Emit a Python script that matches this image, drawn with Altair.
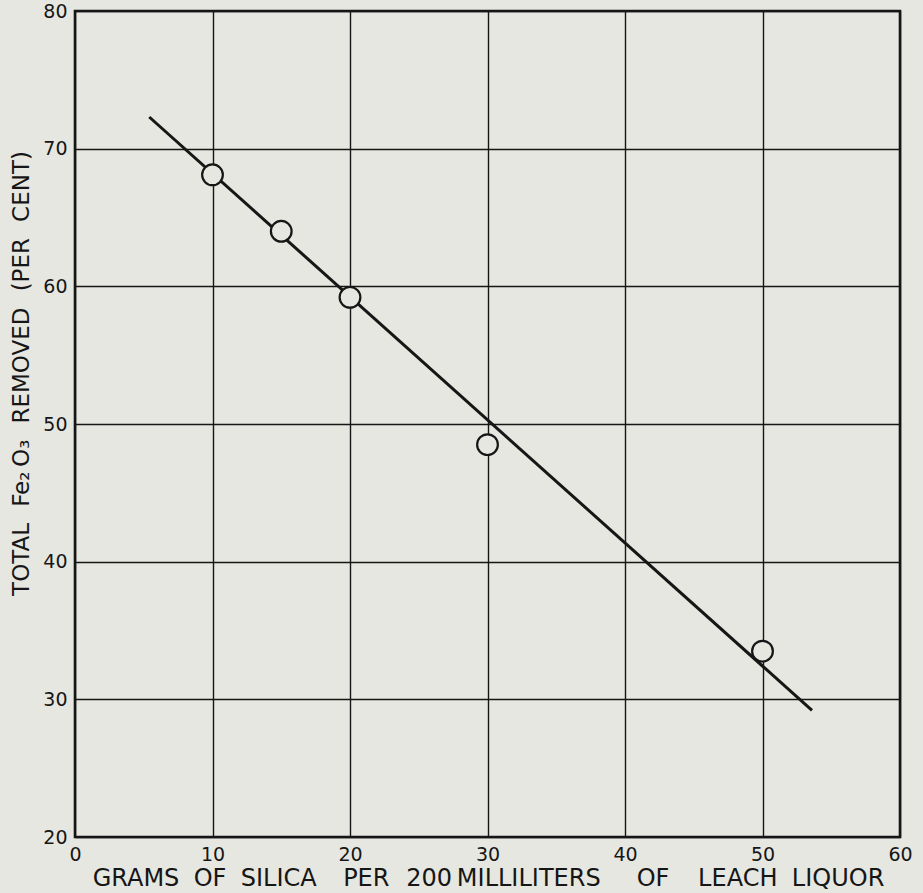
import altair as alt
import pandas as pd

# Measured points
silica_g = [10, 15, 20, 30, 50]
fe2o3_removed = [68.1, 64.0, 59.2, 48.5, 33.5]

# Fitted straight line (end points)
fit_x = [5.4, 53.6]
fit_y = [72.3, 29.2]

x_ticks = [0, 10, 20, 30, 40, 50, 60]
y_ticks = [20, 30, 40, 50, 60, 70, 80]

BG = "#e7e7e1"
INK = "#161616"
FONT = "DejaVu Sans"

EN, EM, TH, HA = "\u2002", "\u2003", "\u2009", "\u200a"
x_title = ("GRAMS" + EN + HA + "OF" + EN + HA + "SILICA" + EM + HA + "PER" + EN + TH +
           "200" + TH + "MILLILITERS" + EM + EN + "OF" + EM + TH + "LEACH" +
           EN + HA + "LIQUOR")
y_title = ("TOTAL" + EN + TH + "Fe₂" + TH + "O₃" + EN + TH + "REMOVED" + EN + TH +
           "(PER" + EN + TH + "CENT)")

pts = pd.DataFrame({"x": silica_g, "y": fe2o3_removed})
fit = pd.DataFrame({"x": fit_x, "y": fit_y})

xscale = alt.Scale(domain=[0, 60], nice=False, zero=False)
yscale = alt.Scale(domain=[20, 80], nice=False, zero=False)

xaxis = alt.Axis(
    values=x_ticks, title=x_title,
    grid=True, gridColor=INK, gridWidth=1.4, gridOpacity=1,
    domain=False, ticks=False, labelPadding=8, labelFontSize=19, labelColor=INK,
    labelFont=FONT, titleFont=FONT, titleFontSize=24, titleFontWeight="normal",
    titleColor=INK, titlePadding=2, titleX=413, labelFlush=False,
)
yaxis = alt.Axis(
    values=y_ticks, title=y_title,
    grid=True, gridColor=INK, gridWidth=1.4, gridOpacity=1,
    domain=False, ticks=False, labelPadding=8, labelFontSize=19, labelColor=INK,
    labelFont=FONT, titleFont=FONT, titleFontSize=23, titleFontWeight="normal",
    titleColor=INK, titleY=362, titleX=-54, titleAngle=270,
    titleBaseline="middle", labelFlush=False,
)

line = alt.Chart(fit).mark_line(color=INK, strokeWidth=3).encode(
    x=alt.X("x:Q", scale=xscale, axis=xaxis),
    y=alt.Y("y:Q", scale=yscale, axis=yaxis),
)

points = alt.Chart(pts).mark_point(
    shape="circle", size=430, filled=False, fill=BG, fillOpacity=1,
    stroke=INK, strokeWidth=2.2, opacity=1,
).encode(
    x=alt.X("x:Q", scale=xscale),
    y=alt.Y("y:Q", scale=yscale),
)

chart = (line + points).properties(
    width=825, height=826,
    background=BG,
    autosize=alt.AutoSizeParams(type="none"),
    padding={"left": 75, "top": 11, "right": 23, "bottom": 56},
).configure_view(
    stroke=INK, strokeWidth=2.6, fill=BG,
)

chart.save("out.html", embed_options={"renderer": "svg", "actions": False})
